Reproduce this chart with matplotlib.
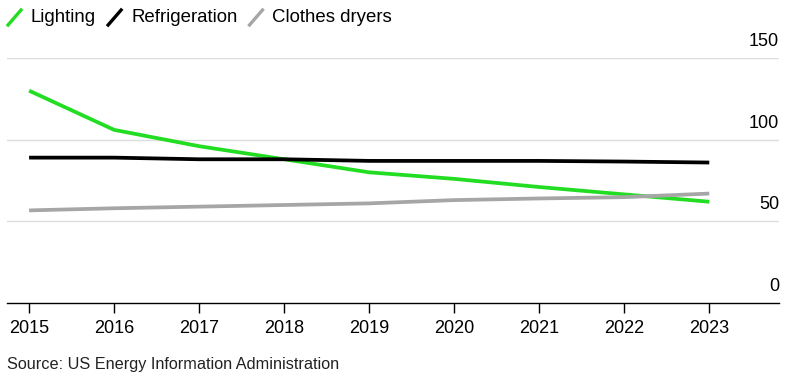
import matplotlib
matplotlib.use("Agg")
import matplotlib.pyplot as plt
from matplotlib.lines import Line2D

plt.rcParams['font.family'] = ['Liberation Sans', 'DejaVu Sans']

years = [2015, 2016, 2017, 2018, 2019, 2020, 2021, 2022, 2023]
lighting = [130, 106, 96, 88, 80, 76, 71, 66.5, 62]
refrigeration = [89, 89, 88, 88, 87, 87, 87, 86.6, 86]
clothes_dryers = [56.7, 58, 59, 60, 61, 63, 64, 64.8, 67]

series = [
    ("Lighting", lighting, "#22dd22"),
    ("Refrigeration", refrigeration, "#000000"),
    ("Clothes dryers", clothes_dryers, "#a6a6a6"),
]
yticks = [0, 50, 100, 150]

fig = plt.figure(figsize=(7.92, 3.85), dpi=100)
ax = fig.add_axes([7/792, (385-303)/385, (779-7)/792, (303-58)/385])

for name, vals, col in series:
    ax.plot(years, vals, color=col, lw=2.7, solid_capstyle='butt', zorder=3)

ax.set_xlim(2014.74, 2023.82)
ax.set_ylim(0, 150)
ax.set_xticks(years)
ax.set_xticklabels([str(y) for y in years], fontsize=13)
ax.tick_params(axis='x', length=7, width=1, color='black', pad=5)
ax.set_yticks([])
for v in yticks[1:]:
    ax.axhline(v, color='#dddddd', lw=1, zorder=1)
for v in yticks:
    ax.text(1.0, v + 5, str(v), transform=ax.get_yaxis_transform(),
            ha='right', va='bottom', fontsize=13)

for s in ['top', 'right', 'left']:
    ax.spines[s].set_visible(False)
ax.spines['bottom'].set_linewidth(1)
ax.spines['bottom'].set_color('black')

# legend
x = 8
fig.canvas.draw()
r = fig.canvas.get_renderer()
for name, vals, col in series:
    fig.add_artist(Line2D([x, x + 13], [385 - 25, 385 - 10], color=col, lw=2.4,
                          transform=None))
    t = fig.text((x + 23) / 792, 1 - 18 / 385, name, fontsize=13.4, va='center', ha='left')
    w = t.get_window_extent(renderer=r).width
    x = x + 23 + w + 12

fig.text(7/792, 1 - 365/385, "Source: US Energy Information Administration",
         fontsize=11.7, va='center', ha='left', color='#222222')

fig.savefig("out.png", dpi=100)
